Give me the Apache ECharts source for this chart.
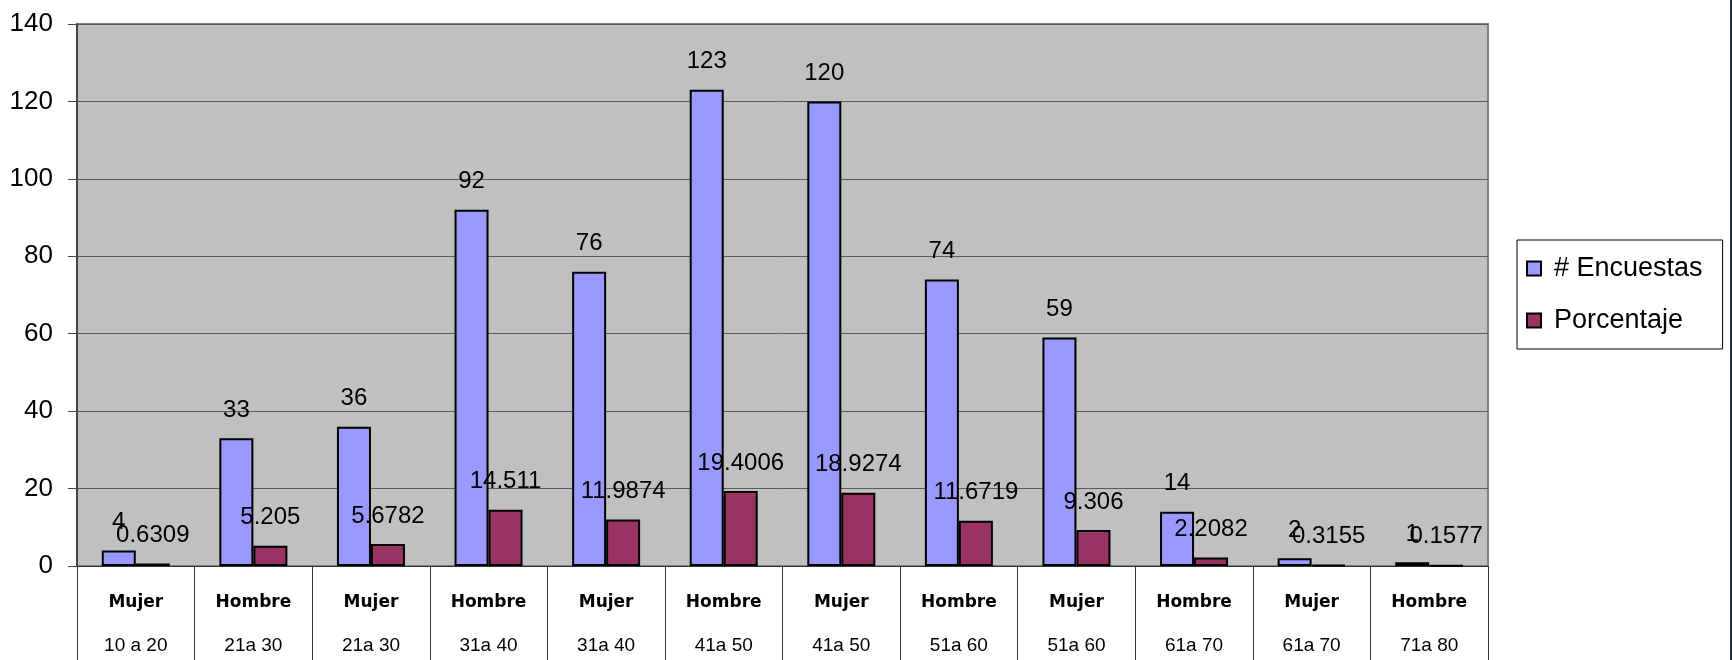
<!DOCTYPE html>
<html>
<head>
<meta charset="utf-8">
<script src="https://cdn.jsdelivr.net/npm/echarts@6/dist/echarts.min.js"></script>
<style>
  html, body { margin: 0; padding: 0; background: #fff; }
  #chart-panel { width: 1732px; height: 660px; }
</style>
</head>
<body>
<div id="chart-panel"></div>
<script>
var generos = ['Mujer', 'Hombre', 'Mujer', 'Hombre', 'Mujer', 'Hombre', 'Mujer', 'Hombre', 'Mujer', 'Hombre', 'Mujer', 'Hombre'];
var rangos = ['10 a 20', '21a 30', '21a 30', '31a 40', '31a 40', '41a 50', '41a 50', '51a 60', '51a 60', '61a 70', '61a 70', '71a 80'];
var encuestas = [4, 33, 36, 92, 76, 123, 120, 74, 59, 14, 2, 1];
var porcentaje = [0.6309, 5.205, 5.6782, 14.511, 11.9874, 19.4006, 18.9274, 11.6719, 9.306, 2.2082, 0.3155, 0.1577];
var yTicks = [0, 20, 40, 60, 80, 100, 120, 140];

var categorias = generos.map(function (g, i) {
    return g + '\n' + rangos[i];
});

var fuente = 'Liberation Sans, Arial, sans-serif';

var etiqueta = {
    show: true,
    position: 'top',
    distance: 16,
    color: '#000',
    fontSize: 24,
    fontFamily: fuente
};

option = {
    backgroundColor: '#fff',
    animation: false,
    grid: {
        left: 77,
        top: 24,
        width: 1411,
        height: 542,
        show: true,
        backgroundColor: '#c0c0c0',
        borderColor: '#808080',
        borderWidth: 2
    },
    legend: {
        orient: 'vertical',
        left: 1517,
        top: 240,
        backgroundColor: '#fff',
        borderColor: '#000',
        borderWidth: 1,
        padding: [15, 20, 15, 9],
        itemWidth: 14,
        itemHeight: 14,
        itemGap: 25,
        icon: 'rect',
        textStyle: {
            fontSize: 27,
            fontFamily: fuente,
            color: '#000',
            padding: [0, 0, 0, 8]
        },
        data: ['# Encuestas', 'Porcentaje']
    },
    xAxis: {
        type: 'category',
        data: categorias,
        axisLine: { lineStyle: { color: '#333', width: 1 } },
        axisTick: {
            show: true,
            interval: 0,
            length: 94,
            lineStyle: { color: '#333', width: 1 }
        },
        axisLabel: {
            interval: 0,
            margin: 15,
            formatter: function (v) {
                var p = v.split('\n');
                return '{g|' + p[0] + '}\n{r|' + p[1] + '}';
            },
            rich: {
                g: {
                    fontSize: 17,
                    fontWeight: 'bold',
                    fontFamily: 'DejaVu Sans, sans-serif',
                    color: '#000',
                    lineHeight: 43
                },
                r: {
                    fontSize: 19,
                    fontFamily: fuente,
                    color: '#000',
                    lineHeight: 43
                }
            }
        }
    },
    yAxis: {
        type: 'value',
        min: yTicks[0],
        max: yTicks[yTicks.length - 1],
        interval: 20,
        axisLine: { show: true, lineStyle: { color: '#444', width: 2 } },
        axisTick: { show: true, length: 9, lineStyle: { color: '#444' } },
        axisLabel: {
            fontSize: 26,
            fontFamily: fuente,
            color: '#000',
            margin: 24
        },
        splitLine: { lineStyle: { color: '#5a5a5a', width: 1 } }
    },
    graphic: [{
        type: 'rect',
        right: 0,
        top: 0,
        shape: { width: 2, height: 660 },
        style: { fill: '#1f3a3d' }
    }],
    series: [{
        name: '# Encuestas',
        type: 'bar',
        data: encuestas,
        barWidth: 34,
        barGap: '0%',
        itemStyle: { color: '#9999ff', borderColor: '#000', borderWidth: 2 },
        label: etiqueta
    }, {
        name: 'Porcentaje',
        type: 'bar',
        data: porcentaje,
        barWidth: 34,
        itemStyle: { color: '#993366', borderColor: '#000', borderWidth: 2 },
        label: etiqueta
    }]
};

var myChart = echarts.init(document.getElementById('chart-panel'));
myChart.setOption(option);
</script>
</body>
</html>
